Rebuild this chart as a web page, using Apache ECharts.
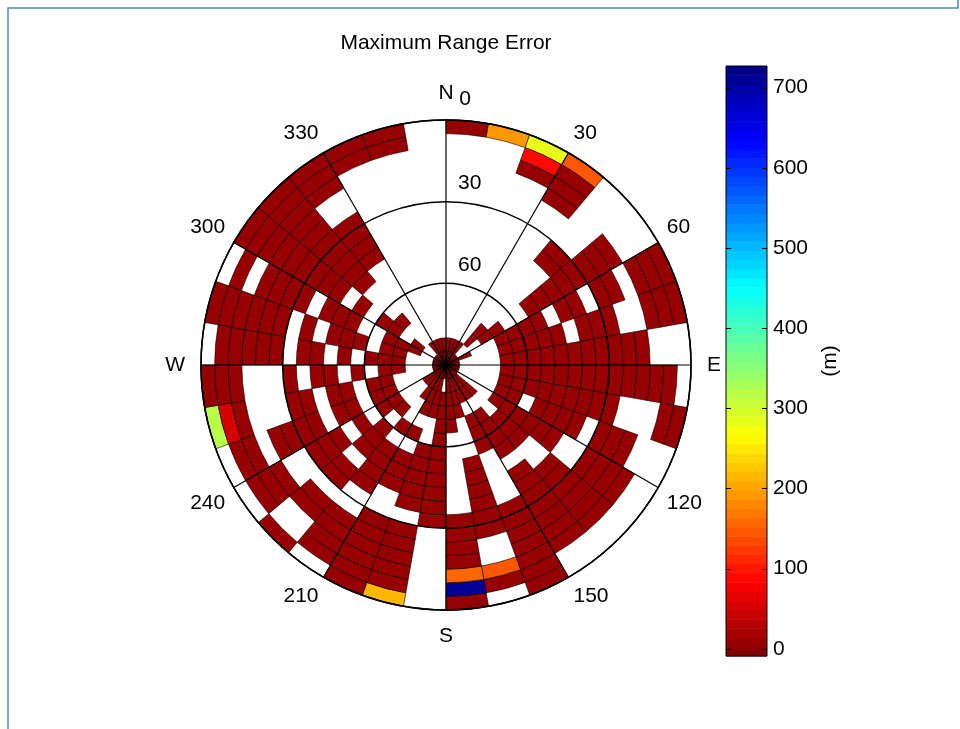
<!DOCTYPE html>
<html><head><meta charset="utf-8">
<script src="https://cdn.jsdelivr.net/npm/echarts@6/dist/echarts.min.js"></script>
<style>html,body{margin:0;padding:0;background:#fff}#c{width:960px;height:729px}</style>
</head><body><div id="c"></div>
<script>
const _ = null;
// azimuth bin starts (deg, clockwise from North), elevation bin starts (deg)
const azimuthBins = [0,10,20,30,40,50,60,70,80,90,100,110,120,130,140,150,160,170,180,190,200,210,220,230,240,250,260,270,280,290,300,310,320,330,340,350];
const elevationBins = [0,5,10,15,20,25,30,35,40,45,50,55,60,65,70,75,80,85];
const colorbarTicks = [0,100,200,300,400,500,600,700];
const radiusTicks = [30,60];
const compassLabels = {0:'N',90:'E',180:'S',270:'W'};
// maximum range error (m) per azimuth bin (rows) and elevation bin (columns); null = no data
const rangeError = [
 [5,_,_,_,_,_,_,_,_,_,_,_,_,_,_,_,5,5],
 [190,_,_,_,_,_,_,_,_,_,_,_,_,_,_,_,5,5],
 [280,90,5,_,_,_,_,_,_,_,_,_,_,_,_,_,5,5],
 [150,5,5,5,_,_,_,_,_,_,_,_,_,_,_,_,5,5],
 [_,_,_,_,_,_,5,5,_,_,_,_,_,_,5,5,_,5],
 [_,_,_,5,5,5,5,5,5,5,5,_,_,5,5,_,_,5],
 [5,5,5,_,5,5,_,5,5,_,5,5,5,5,_,_,5,5],
 [5,5,5,_,_,5,5,5,_,5,5,5,5,5,_,_,_,5],
 [_,_,_,5,5,5,5,5,5,5,5,5,5,5,_,_,_,5],
 [_,5,5,5,5,5,5,5,5,5,5,5,5,5,_,_,_,5],
 [5,5,_,_,_,5,5,5,5,5,5,5,5,5,_,_,_,5],
 [_,_,_,5,5,5,_,5,5,5,5,_,5,5,_,_,_,5],
 [_,_,5,5,5,5,_,_,5,5,5,5,5,5,_,_,_,5],
 [_,_,5,5,5,5,5,5,_,_,5,5,5,_,_,5,5,5],
 [_,_,5,5,5,5,5,5,5,_,5,5,5,5,_,5,5,5],
 [5,5,5,5,5,5,5,_,_,_,_,5,5,5,_,5,5,5],
 [_,5,150,_,_,5,5,5,5,5,5,_,_,_,5,5,5,5],
 [5,715,155,5,5,5,5,_,_,_,_,_,_,5,5,5,5,5],
 [_,_,_,_,_,_,5,5,5,5,5,5,5,5,5,5,_,5],
 [215,5,5,5,5,5,_,5,5,5,5,5,_,_,5,5,5,5],
 [5,5,5,5,5,5,_,_,5,5,5,_,5,_,5,5,5,5],
 [_,5,5,5,5,_,_,5,5,5,5,_,5,_,_,5,5,5],
 [5,_,_,5,5,_,5,5,_,5,5,5,_,5,_,_,5,5],
 [_,5,5,5,_,_,5,5,5,_,5,_,5,5,_,_,5,5],
 [_,5,5,_,5,5,5,5,_,5,5,_,5,5,_,_,_,5],
 [320,50,5,_,_,_,5,5,_,5,5,_,5,5,_,_,_,5],
 [5,5,5,_,_,_,5,_,5,5,_,5,_,5,5,_,_,5],
 [_,5,5,5,5,5,_,5,5,_,5,_,5,5,5,_,_,5],
 [5,5,5,5,5,5,_,5,_,5,5,5,_,5,5,_,_,5],
 [_,5,_,5,5,5,5,_,5,5,5,_,_,5,5,5,_,5],
 [5,5,5,5,5,5,5,5,5,_,5,_,5,5,_,5,_,5],
 [5,5,5,5,5,5,5,5,5,5,_,_,_,5,_,_,_,5],
 [5,5,5,_,_,5,5,5,5,_,_,_,_,_,_,_,5,5],
 [5,5,_,_,_,_,_,_,_,_,_,_,_,_,_,_,5,5],
 [5,5,_,_,_,_,_,_,_,_,_,_,_,_,_,_,5,5],
 [_,_,_,_,_,_,_,_,_,_,_,_,_,_,_,_,5,5]
];
const C_MIN = -9, C_MAX = 727;
const AZ_STEP = 10, EL_STEP = 5;

function clamp01(x){return Math.max(0,Math.min(1,x));}
function jetRev(v){
  const t = clamp01((v - C_MIN)/(C_MAX - C_MIN));
  const idx = Math.min(63, Math.floor(t*64));
  const u = 1 - (idx + 0.5)/64;
  const r = clamp01(1.5 - Math.abs(4*u - 3));
  const g = clamp01(1.5 - Math.abs(4*u - 2));
  const b = clamp01(1.5 - Math.abs(4*u - 1));
  return 'rgb(' + Math.round(r*255) + ',' + Math.round(g*255) + ',' + Math.round(b*255) + ')';
}

const cellData = [];
azimuthBins.forEach((az, i) => {
  elevationBins.forEach((el, j) => {
    const v = rangeError[i][j];
    if (v !== null) cellData.push([el, az, v]);
  });
});
const cbData = [];
for (let k = 0; k < 64; k++) {
  const lo = C_MIN + (C_MAX - C_MIN)*k/64, hi = C_MIN + (C_MAX - C_MIN)*(k+1)/64;
  cbData.push([lo, hi, (lo+hi)/2]);
}

// colorbar geometry: full bar spans C_MIN..C_MAX; label grid spans first..last tick
const CB_TOP = 66, CB_H = 590, CB_LEFT = 726, CB_W = 41;
const tickLo = colorbarTicks[0], tickHi = colorbarTicks[colorbarTicks.length - 1];
const yOf = v => CB_TOP + CB_H - (v - C_MIN) / (C_MAX - C_MIN) * CB_H;

const FONT = 'Liberation Sans, Arial, sans-serif';
const FS = 21;
const chart = echarts.init(document.getElementById('c'));
const polarCommon = {center: [446, 365], radius: 245};
chart.setOption({
  animation: false,
  backgroundColor: '#fff',
  title: {text: 'Maximum Range Error', left: 441, top: 28, textAlign: 'center',
    textStyle: {fontSize: FS, fontWeight: 'normal', color: '#000', fontFamily: FONT}},
  graphic: [{type: 'polyline', shape: {points: [[8, 729], [8, 8], [958, 8], [958, 0]]},
    style: {stroke: '#4f86c6', lineWidth: 1.5, fill: null}, silent: true}],
  polar: [polarCommon, polarCommon],
  angleAxis: [{
    polarIndex: 0, type: 'value', min: 0, max: 360, interval: 30, startAngle: 90, clockwise: true, z: 10,
    axisLine: {show: true, lineStyle: {color: '#000', width: 1.5}},
    axisTick: {show: false},
    splitLine: {show: true, lineStyle: {color: '#000', width: 1.2}},
    axisLabel: {show: true, margin: 10, color: '#000', fontSize: FS, fontFamily: FONT,
      formatter: v => (v === 0 ? '{z|0}' : (v % 90 === 0 ? '' : String(v))),
      rich: {z: {fontSize: FS, fontFamily: FONT, color: '#000', padding: [8, 0, 0, 38]}}}
  }, {
    polarIndex: 1, type: 'value', min: 0, max: 360, interval: 90, startAngle: 90, clockwise: true, z: 10,
    axisLine: {show: false}, axisTick: {show: false}, splitLine: {show: false},
    axisLabel: {show: true, margin: 16, color: '#000', fontSize: FS, fontFamily: FONT,
      formatter: v => compassLabels[v] || ''}
  }],
  radiusAxis: [{
    polarIndex: 0, type: 'value', min: 0, max: 90, interval: 30, inverse: true, z: 10,
    axisLine: {show: false}, axisTick: {show: false},
    splitLine: {show: true, lineStyle: {color: '#000', width: 1.5}},
    axisLabel: {show: true, color: '#000', fontSize: FS, fontFamily: FONT, margin: -12,
      align: 'left', verticalAlign: 'bottom', padding: [0, 0, 8, 0],
      formatter: v => (radiusTicks.indexOf(v) >= 0 ? String(v) : '')}
  }, {
    polarIndex: 1, type: 'value', min: 0, max: 90, inverse: true, show: false
  }],
  grid: [
    {left: CB_LEFT, top: CB_TOP, width: CB_W, height: CB_H, show: true, borderColor: '#000', borderWidth: 1, z: 10},
    {left: CB_LEFT, top: yOf(tickHi), width: CB_W, height: yOf(tickLo) - yOf(tickHi), show: false, z: 10}
  ],
  xAxis: [
    {gridIndex: 0, type: 'value', min: 0, max: 1, show: false},
    {gridIndex: 1, type: 'value', min: 0, max: 1, show: false}
  ],
  yAxis: [{
    gridIndex: 0, type: 'value', min: C_MIN, max: C_MAX, position: 'right', z: 10,
    name: '(m)', nameLocation: 'middle', nameGap: 53, nameRotate: 90,
    nameTextStyle: {color: '#000', fontSize: FS, fontFamily: FONT},
    axisLine: {show: false}, axisTick: {show: false}, axisLabel: {show: false}, splitLine: {show: false}
  }, {
    gridIndex: 1, type: 'value', min: tickLo, max: tickHi, interval: 100, position: 'right', z: 11,
    axisLine: {show: false}, axisTick: {show: false},
    axisLabel: {show: true, color: '#000', fontSize: FS, fontFamily: FONT, margin: 6},
    splitLine: {show: false}
  }],
  series: [{
    type: 'custom', coordinateSystem: 'polar', polarIndex: 0, z: 2,
    dimensions: ['elevation', 'azimuth', 'error'],
    encode: {radius: 0, angle: 1},
    data: cellData,
    renderItem: function (params, api) {
      const cs = params.coordSys;
      const el = api.value(0), az = api.value(1);
      const pOut0 = api.coord([el, az]);
      const pOut1 = api.coord([el, az + AZ_STEP]);
      const pIn = api.coord([el + EL_STEP, az]);
      const rOut = Math.hypot(pOut0[0] - cs.cx, pOut0[1] - cs.cy);
      const rIn = Math.hypot(pIn[0] - cs.cx, pIn[1] - cs.cy);
      const a0 = Math.atan2(pOut0[1] - cs.cy, pOut0[0] - cs.cx);
      let a1 = Math.atan2(pOut1[1] - cs.cy, pOut1[0] - cs.cx);
      while (a1 <= a0) a1 += Math.PI * 2;
      return {type: 'sector', shape: {cx: cs.cx, cy: cs.cy, r0: rIn, r: rOut, startAngle: a0, endAngle: a1, clockwise: true},
        style: {fill: jetRev(api.value(2)), stroke: '#000', lineWidth: 0.6}};
    }
  }, {
    type: 'custom', coordinateSystem: 'cartesian2d', xAxisIndex: 0, yAxisIndex: 0, z: 2,
    data: cbData,
    renderItem: function (params, api) {
      const p0 = api.coord([0, api.value(0)]);
      const p1 = api.coord([1, api.value(1)]);
      return {type: 'rect', shape: {x: p0[0], y: p1[1], width: p1[0] - p0[0], height: p0[1] - p1[1] + 0.5},
        style: {fill: jetRev(api.value(2))}};
    }
  }, {
    type: 'custom', coordinateSystem: 'cartesian2d', xAxisIndex: 0, yAxisIndex: 0, z: 5,
    data: colorbarTicks.map(v => [v]),
    renderItem: function (params, api) {
      const pl = api.coord([0, api.value(0)]);
      const pr = api.coord([1, api.value(0)]);
      const y = Math.round(pl[1]) + 0.5;
      return {type: 'group', children: [
        {type: 'line', shape: {x1: pl[0], y1: y, x2: pl[0] + 5, y2: y}, style: {stroke: '#000', lineWidth: 1}},
        {type: 'line', shape: {x1: pr[0] - 5, y1: y, x2: pr[0], y2: y}, style: {stroke: '#000', lineWidth: 1}}
      ]};
    }
  }]
});
</script></body></html>
